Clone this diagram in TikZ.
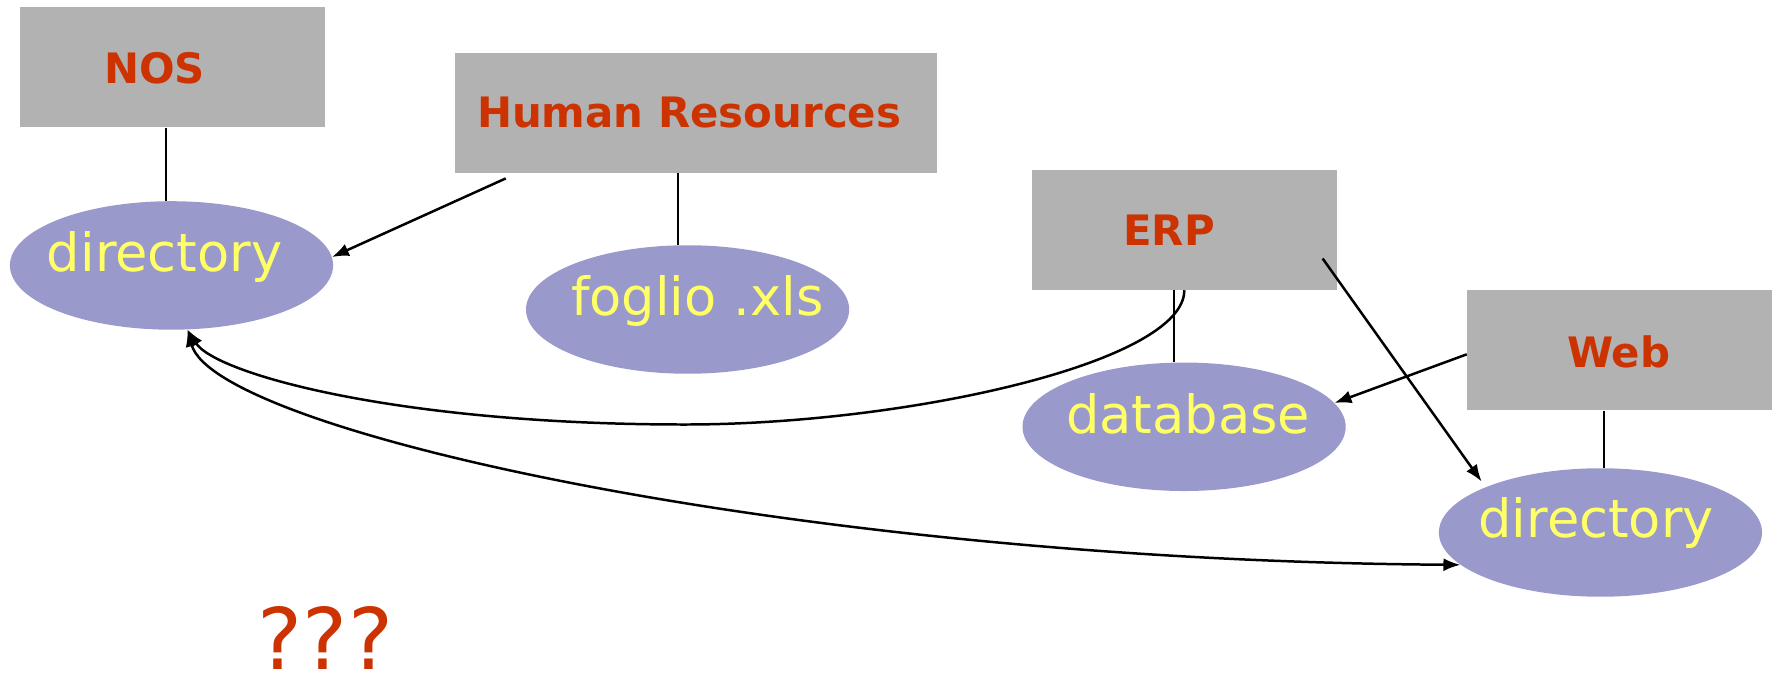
\documentclass[tikz,border=0pt]{standalone}
\usepackage{fontspec}
\setmainfont{DejaVu Sans}
\usetikzlibrary{shapes.geometric,arrows.meta}
\definecolor{boxgray}{HTML}{B2B2B2}
\definecolor{ellfill}{HTML}{9999CC}
\definecolor{txtyellow}{HTML}{FFFF66}
\definecolor{txtred}{HTML}{CC3300}
\tikzset{
  sysbox/.style={fill=boxgray, draw=none, inner sep=0pt, minimum width=269pt, minimum height=106pt},
  dataell/.style={ellipse, fill=ellfill, draw=none, inner sep=0pt, minimum width=285.5pt, minimum height=113.5pt},
  boxlabel/.style={anchor=base, inner sep=0pt, text=txtred, font=\fontsize{37}{44}\selectfont\bfseries},
  elllabel/.style={anchor=base, inner sep=0pt, text=txtyellow, font=\fontsize{46.5}{56}\selectfont},
  qlabel/.style={anchor=base, inner sep=0pt, text depth=0pt, text=txtred, font=\fontsize{75}{90}\selectfont},
  link/.style={draw=black, line width=1.8pt},
  arr/.style={draw=black, line width=2.2pt, -{Latex[length=15pt,width=11.5pt]}},
  biarr/.style={draw=black, line width=2.2pt, {Latex[length=15pt,width=11.5pt]}-{Latex[length=15pt,width=11.5pt]}}
}
\begin{document}
\begin{tikzpicture}[x=1pt, y=-1pt]
\useasboundingbox (0,0) rectangle (1568,596.28);

% boxes
\node[sysbox] (nos) at (152.5,59.6) {};
\node[sysbox, minimum width=426pt] (hr) at (615,99.4) {};
\node[sysbox] (erp) at (1046.2,203.2) {};
\node[sysbox] (web) at (1430.4,309.5) {};

\node[boxlabel] (nost) at (136.7,73.6) {NOS};
\node[boxlabel] (hrt) at (608.8,112.8) {Human Resources};
\node[boxlabel] (erpt) at (1032.7,217.3) {ERP};
\node[boxlabel] (webt) at (1430,324.5) {Web};

% ellipses
\node[dataell] (dir1) at (151.5,234.5) {};
\node[dataell] (fog) at (607.4,273.4) {};
\node[dataell] (db) at (1046,377) {};
\node[dataell] (dir2) at (1413.8,470.4) {};

\node[elllabel] (dir1t) at (145.5,240) {directory};
\node[elllabel] (fogt) at (616,279) {foglio .xls};
\node[elllabel] (dbt) at (1049.5,382.6) {database};
\node[elllabel] (dir2t) at (1410,474.5) {directory};

\node[qlabel] (q) at (287.5,591.3) {???};

% plain links
\draw[link] ([xshift=-5.5pt]nos.south) -- ([xshift=-4.5pt]dir1.north);
\draw[link] ([xshift=-16pt]hr.south) -- ([xshift=-8.4pt]fog.north);
\draw[link] ([xshift=-9.2pt]erp.south) -- ([xshift=-9pt]db.north);
\draw[link] ([xshift=-13.4pt]web.south) -- ([xshift=3.2pt]dir2.north);

% arrows
\draw[arr] ([shift={(45,5)}]hr.south west) -- (dir1.3);
\draw[arr] ([shift={(-12.5,-28)}]erp.south east) -- ([shift={(-105,-45)}]dir2.center);
\draw[arr] ([shift={(0,3.5)}]web.west) -- (db.9);
\draw[arr] (erp.south) .. controls ([shift={(0,64)}]erp.south) and (800,375) .. (605,375)
   .. controls (350,375) and (190,330) .. (dir1.-76);
\draw[biarr] (dir1.-76) .. controls (190,380) and (700,495) .. (dir2.-167);
\end{tikzpicture}
\end{document}
